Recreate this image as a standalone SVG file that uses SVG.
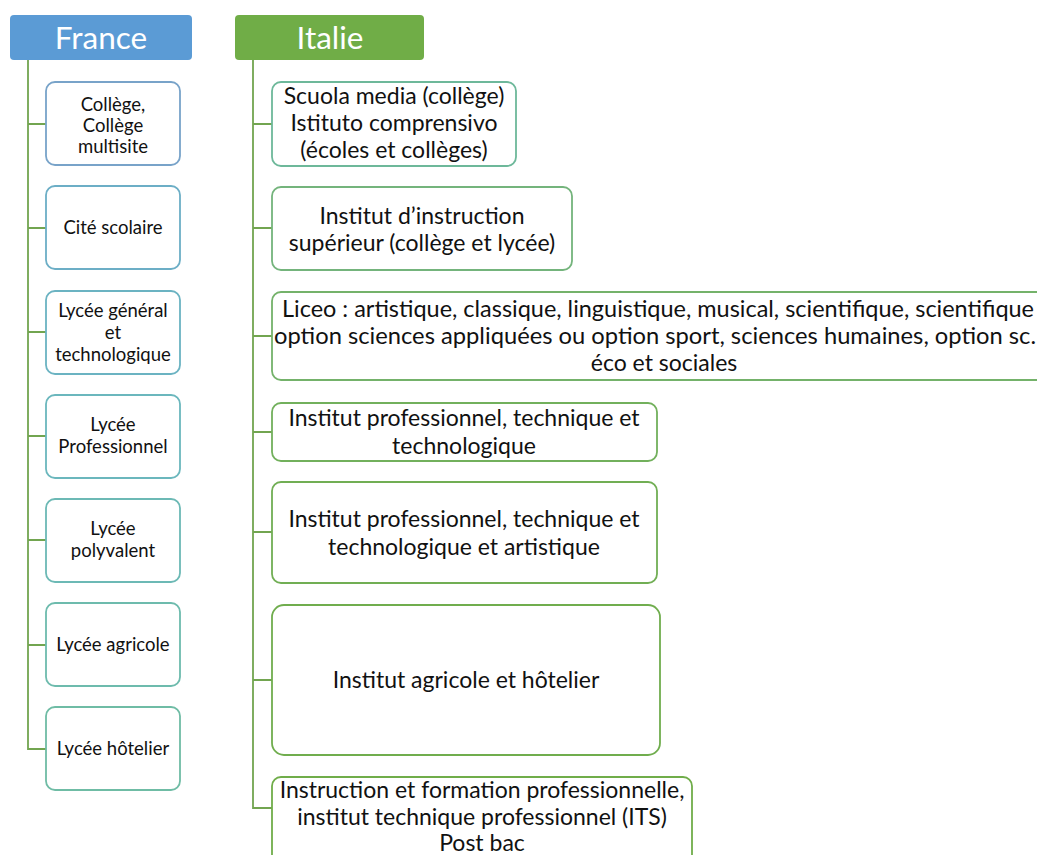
<svg xmlns="http://www.w3.org/2000/svg" width="1037" height="855" viewBox="0 0 1037 855">
<style>
.hdr{font-family:Lato,"Open Sans","Liberation Sans",sans-serif;font-size:31.5px;fill:#fff;text-anchor:middle}
.fr{font-family:Lato,"Open Sans","Liberation Sans",sans-serif;font-size:18.5px;fill:#111;text-anchor:middle}
.it{font-family:Lato,"Open Sans","Liberation Sans",sans-serif;font-size:23px;fill:#111;text-anchor:middle}
.box{fill:#fff;stroke-width:1.8}
.con{fill:none;stroke:#72A550;stroke-width:1.8}
</style>
<rect width="1037" height="855" fill="#fff"/>
<g id="connectors">
<path class="con" d="M28 60 V749 H46 M28 124 H46 M28 228 H46 M28 332 H46 M28 436 H46 M28 540 H46 M28 645 H46"/>
<path class="con" d="M253 60 V808 H272 M253 124 H272 M253 228 H272 M253 336 H272 M253 432 H272 M253 532 H272 M253 680 H272"/>
</g>
<g id="france">
<rect x="10" y="15" width="182" height="45" rx="4" fill="#5B9BD5"/>
<text class="hdr" x="101" y="49">France</text>
</g>
<g id="italie">
<rect x="235" y="15" width="189" height="45" rx="4" fill="#70AD47"/>
<text class="hdr" x="330" y="49">Italie</text>
</g>
<g id="fr1"><rect class="box" x="46" y="82" width="134" height="83" rx="9" stroke="#78A3C9"/>
<text class="fr" x="113" y="111">Collège,</text><text class="fr" x="113" y="132">Collège</text><text class="fr" x="113" y="153">multisite</text></g>
<g id="fr2"><rect class="box" x="46" y="186" width="134" height="83" rx="9" stroke="#6CAEC6"/>
<text class="fr" x="113" y="234">Cité scolaire</text></g>
<g id="fr3"><rect class="box" x="46" y="291" width="134" height="83" rx="9" stroke="#6BB3C2"/>
<text class="fr" x="113" y="317">Lycée général</text><text class="fr" x="113" y="339">et</text><text class="fr" x="113" y="361">technologique</text></g>
<g id="fr4"><rect class="box" x="46" y="395" width="134" height="83" rx="9" stroke="#6BB7BD"/>
<text class="fr" x="113" y="431">Lycée</text><text class="fr" x="113" y="453">Professionnel</text></g>
<g id="fr5"><rect class="box" x="46" y="499" width="134" height="83" rx="9" stroke="#6CB9B5"/>
<text class="fr" x="113" y="535">Lycée</text><text class="fr" x="113" y="557">polyvalent</text></g>
<g id="fr6"><rect class="box" x="46" y="603" width="134" height="83" rx="9" stroke="#6DBBAD"/>
<text class="fr" x="113" y="651">Lycée agricole</text></g>
<g id="fr7"><rect class="box" x="46" y="707" width="134" height="83" rx="9" stroke="#6FBCA5"/>
<text class="fr" x="113" y="755">Lycée hôtelier</text></g>
<g id="it1"><rect class="box" x="272" y="82" width="244" height="84" rx="9" stroke="#6DB89A"/>
<text class="it" x="394" y="104">Scuola media (collège)</text><text class="it" x="394" y="131">Istituto comprensivo</text><text class="it" x="394" y="158">(écoles et collèges)</text></g>
<g id="it2"><rect class="box" x="272" y="187" width="300" height="83" rx="9" stroke="#74B47C"/>
<text class="it" x="422" y="224">Institut d’instruction</text><text class="it" x="422" y="251">supérieur (collège et lycée)</text></g>
<g id="it3"><rect class="box" x="272" y="292" width="790" height="88" rx="9" stroke="#74B26A"/>
<text class="it" x="658" y="317" textLength="752" lengthAdjust="spacingAndGlyphs">Liceo : artistique, classique, linguistique, musical, scientifique, scientifique</text>
<text class="it" x="655" y="344" textLength="762" lengthAdjust="spacingAndGlyphs">option sciences appliquées ou option sport, sciences humaines, option sc.</text>
<text class="it" x="664" y="371">éco et sociales</text></g>
<g id="it4"><rect class="box" x="272" y="403" width="385" height="58" rx="9" stroke="#72B05C"/>
<text class="it" x="464" y="426">Institut professionnel, technique et</text><text class="it" x="464" y="454">technologique</text></g>
<g id="it5"><rect class="box" x="272" y="482" width="385" height="101" rx="9" stroke="#71AE54"/>
<text class="it" x="464" y="527">Institut professionnel, technique et</text><text class="it" x="464" y="555">technologique et artistique</text></g>
<g id="it6"><rect class="box" x="272" y="605" width="388" height="150" rx="12" stroke="#70AD4E"/>
<text class="it" x="466" y="688">Institut agricole et hôtelier</text></g>
<g id="it7"><rect class="box" x="272" y="777" width="420" height="100" rx="9" stroke="#70AD4A"/>
<text class="it" x="482" y="798">Instruction et formation professionnelle,</text><text class="it" x="482" y="825">institut technique professionnel (ITS)</text><text class="it" x="482" y="851">Post bac</text></g>
</svg>
